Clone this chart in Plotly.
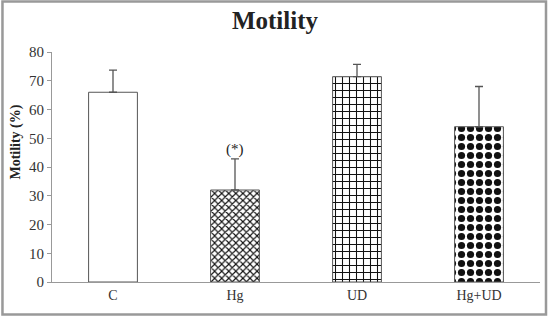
import plotly.graph_objects as go

categories = ["C", "Hg", "UD", "Hg+UD"]
motility = [66, 32, 71.4, 54]
error_up = [7.7, 10.8, 4.3, 14]
patterns = ["", "x", "+", "."]
y_ticks = [0, 10, 20, 30, 40, 50, 60, 70, 80]
note_text = "(*)"
note_cat = "Hg"
y_title = "Motility (%)"

fig = go.Figure()
fig.add_trace(go.Bar(
    x=categories,
    y=motility,
    marker=dict(
        color="white",
        line=dict(color="#555555", width=1),
        pattern=dict(shape=patterns, fgcolor="#111111", bgcolor="white",
                     size=[6, 5, 7, 9], solidity=[0.3, 0.4, 0.28, 0.5],
                     fillmode="replace"),
    ),
    error_y=dict(type="data", array=error_up, arrayminus=[0]*4, symmetric=False,
                 color="#555555", thickness=1.3, width=4),
    width=0.4,
))

fig.add_annotation(x=note_cat, y=motility[1] + error_up[1], text=note_text,
                   showarrow=False, yshift=9,
                   font=dict(family="Liberation Serif", size=15, color="#222"))

fig.add_annotation(xref="paper", yref="paper", x=-0.074, y=0.61, text="<b>" + y_title + "</b>",
                   textangle=-90, showarrow=False, xanchor="center", yanchor="middle",
                   font=dict(family="Liberation Serif", size=14, color="#222"))

fig.add_shape(type="rect", xref="paper", yref="paper",
              x0=-0.1015, x1=1.0123, y0=-0.1415, y1=1.2195,
              line=dict(color="#999999", width=2.5), layer="below")

fig.update_layout(
    width=550, height=319,
    margin=dict(l=52, r=10, t=52, b=37),
    paper_bgcolor="white", plot_bgcolor="white",
    showlegend=False,
    title=dict(text="<b>Motility</b>", x=0.5, xanchor="center", y=0.935, yanchor="middle",
               font=dict(family="Liberation Serif", size=25, color="#222")),
    font=dict(family="Liberation Serif", color="#333"),
)
fig.update_xaxes(showline=True, linecolor="#999999", linewidth=1, ticks="",
                 tickfont=dict(size=14, color="#333"), showgrid=False, automargin=False)
fig.update_yaxes(range=[0, 80], tickvals=y_ticks, showline=True, linecolor="#999999",
                 linewidth=1, ticks="outside", ticklen=4, tickcolor="#999999",
                 tickfont=dict(size=15, color="#333"), showgrid=False, zeroline=False,
                 automargin=False)

fig.write_html("out.html", config={"displayModeBar": False},
               post_script="document.body.style.margin='0';document.body.style.overflow='hidden';")
